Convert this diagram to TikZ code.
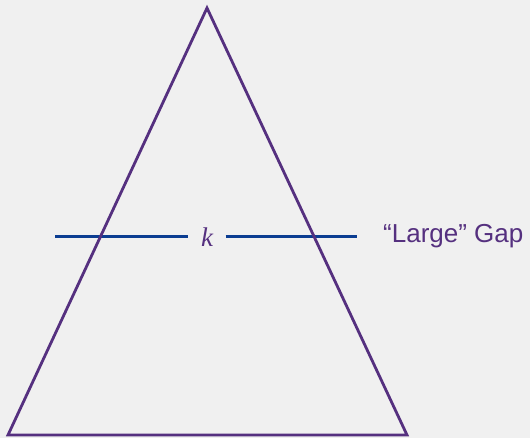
\documentclass[tikz,border=0pt]{standalone}
\usepackage{fontspec}
\setmainfont{Liberation Serif}
\setsansfont{Liberation Sans}
\definecolor{triPurple}{HTML}{55307F}
\definecolor{gapBlue}{HTML}{0B3D91}
\definecolor{bgGray}{HTML}{F0F0F0}
\begin{document}
\begin{tikzpicture}[x = 1pt, y = -1pt]
		\path [fill=bgGray] (0,0) rectangle (530,438);
		\useasboundingbox (0,0) rectangle (530,438);
		\coordinate (apex) at (207,8);
		\coordinate (baseL) at (8,435);
		\coordinate (baseR) at (407,435);
		\coordinate (gapL) at (55,237);
		\coordinate (gapR) at (357,237);
		\node [text=triPurple, font=\fontsize{27}{30}\selectfont\itshape, inner sep=0pt, minimum width=37pt, text depth=0pt] (k) at (207,237) {k};
		\node [anchor=base west, text=triPurple, font=\fontsize{26}{30}\selectfont\sffamily, inner sep=0pt] (gap) at (383,243) {“Large” Gap};
		\path [draw=gapBlue, line width=3pt] (gapL) -- (k.west);
		\path [draw=gapBlue, line width=3pt] (k.east) -- (gapR);
		\path [draw=triPurple, line width=2.8pt, line join=miter] (apex) -- (baseR) -- (baseL) -- cycle;
	\end{tikzpicture}
\end{document}
